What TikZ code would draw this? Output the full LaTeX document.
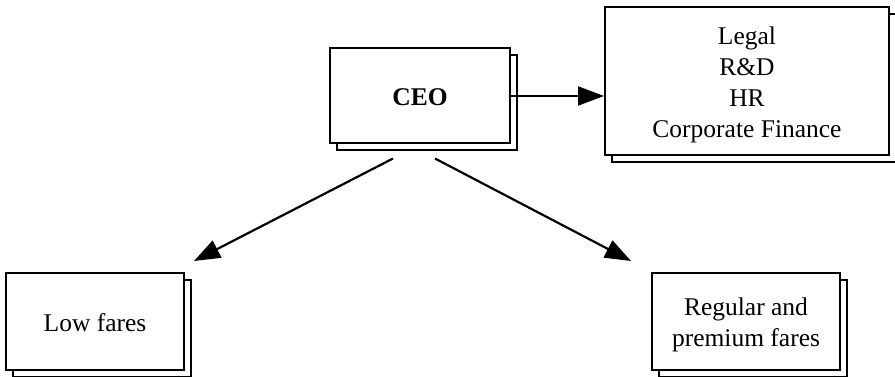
\documentclass[tikz,border=0pt]{standalone}
\usepackage{fontspec}
\setmainfont{Liberation Serif}
\usetikzlibrary{arrows.meta,shadows}

% box text, set a little below the box centre
\newcommand\cardtext[1]{\raisebox{-3.5pt}[\height][\depth]{\begin{tabular}{@{}c@{}}#1\end{tabular}}}

\tikzset{
  card/.style={draw=black, fill=white, line width=2pt, inner sep=0pt,
    font=\fontsize{25.5}{31}\selectfont,
    general shadow={shadow xshift=7pt, shadow yshift=-7pt,
      draw=black, fill=white, line width=2pt}},
  link/.style={line width=2.2pt, -{Triangle[length=26pt,width=19pt]}}
}

\begin{document}
\begin{tikzpicture}[x=1pt, y=-1pt]
  \useasboundingbox (0,0) rectangle (895,377);

  % boxes
  \node[card, minimum width=180pt, minimum height=95pt] (ceo) at (420,96)
    {\cardtext{\textbf{CEO}}};
  \node[card, minimum width=284pt, minimum height=148pt] (staff) at (747,81)
    {\cardtext{Legal\\R\&D\\HR\\Corporate Finance}};
  \node[card, minimum width=178pt, minimum height=97pt] (low) at (95,321.5)
    {\cardtext{Low fares}};
  \node[card, minimum width=188pt, minimum height=97pt] (reg) at (746,321.5)
    {\cardtext{Regular and\\premium fares}};

  % loose ends of the diagonal connectors
  \coordinate (ceoL) at ([shift={(-27,14)}]ceo.south);
  \coordinate (ceoR) at ([shift={(15,14)}]ceo.south);
  \coordinate (lowTip) at ([shift={(9,-11)}]low.north east);
  \coordinate (regTip) at ([shift={(-20,-11)}]reg.north west);

  % connectors
  \draw[link] (ceo.east) -- (ceo.east -| staff.west);
  \draw[link] (ceoL) -- (lowTip);
  \draw[link] (ceoR) -- (regTip);
\end{tikzpicture}
\end{document}
